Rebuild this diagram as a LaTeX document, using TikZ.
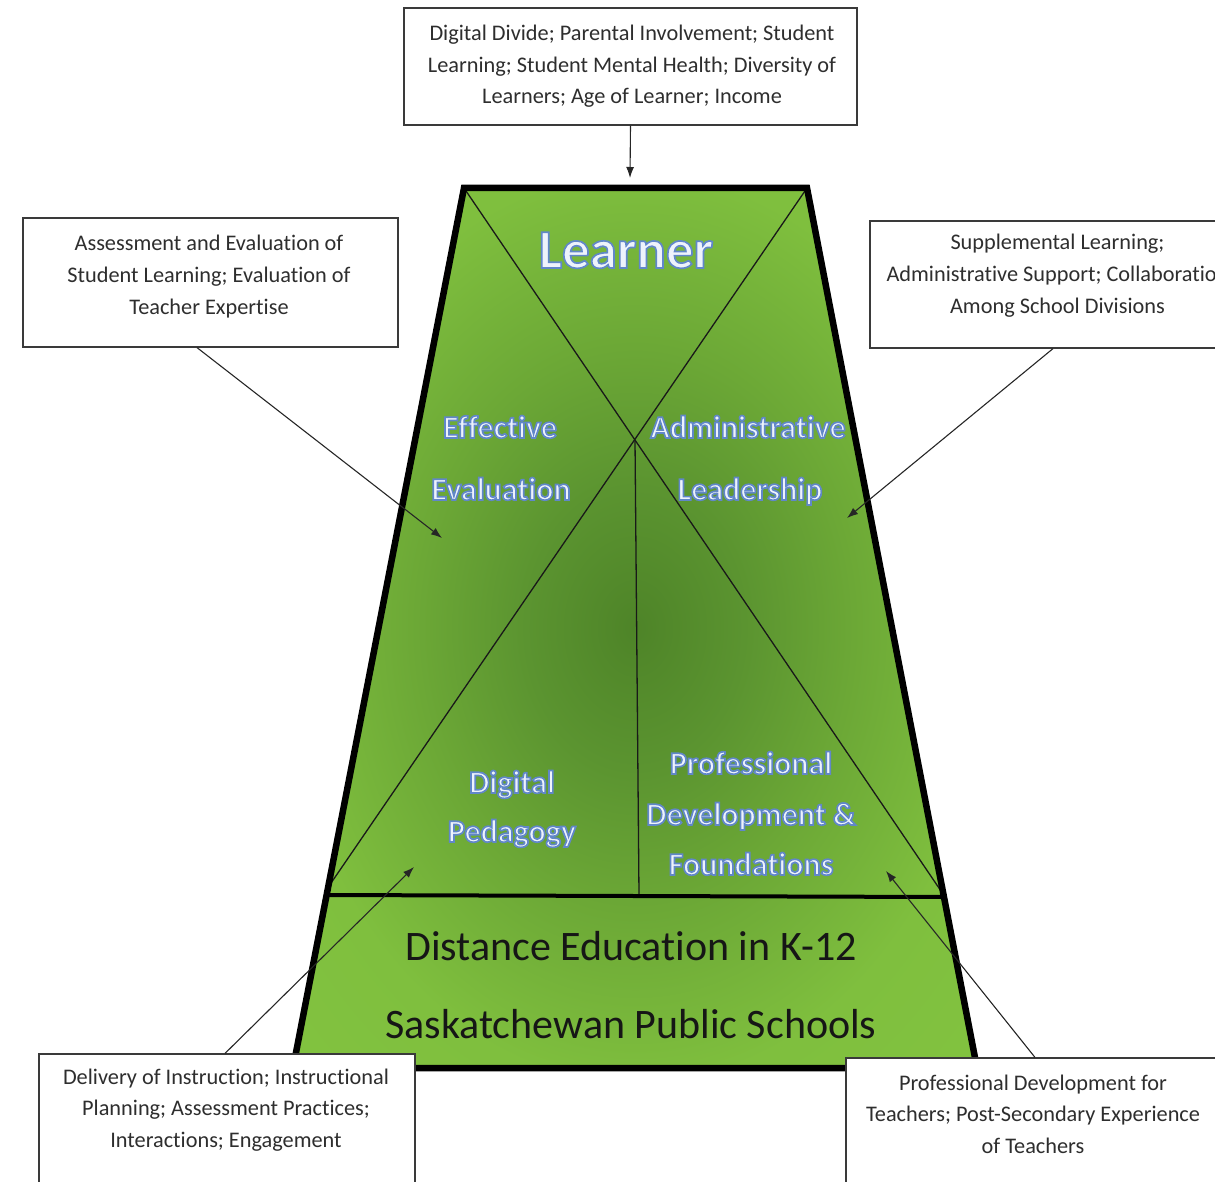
\documentclass[tikz,border=0pt]{standalone}
\usepackage{fontspec}
\setmainfont{Carlito}[RawFeature=-liga]
\usetikzlibrary{arrows.meta,calc}
\definecolor{gdark}{HTML}{4E8428}
\definecolor{gmidA}{HTML}{5B9430}
\definecolor{gmidB}{HTML}{6CA836}
\definecolor{glight}{HTML}{7FBF3E}
\definecolor{glighter}{HTML}{86C842}
\definecolor{glowfill}{HTML}{EEF3FC}
\definecolor{boxgray}{HTML}{3A3A3A}
\definecolor{boxtextc}{HTML}{2E2E2E}
\definecolor{darktext}{HTML}{161616}
\pgfdeclareradialshading{trapglow}{\pgfpoint{0bp}{0bp}}{color(0bp)=(gdark); color(8bp)=(gmidA); color(16bp)=(gmidB); color(26bp)=(glight); color(50bp)=(glighter)}
\newcommand\boxfont{\fontsize{22.3}{31.5}\selectfont}
\newcommand\lblfont{\fontsize{32}{38}\selectfont\bfseries}
\newcommand\bigfont{\fontsize{55}{60}\selectfont\bfseries}
\newcommand\basefont{\fontsize{42}{48}\selectfont}
\newcommand\glowtext[1]{\color{glowfill}\special{pdf:literal direct 2 Tr 1.7 w 0.38 0.53 0.79 RG}#1\special{pdf:literal direct 0 Tr}}
\newcommand\boxlines[4]{%
  \foreach \t [count=\i from 0] in {#4}{\node[boxtext] (#1-\i) at (#2,{#3+31.5*\i}) {\t};}}
\begin{document}
\begin{tikzpicture}[x=1pt,y=-1pt,
  glowlabel/.style={anchor=base, inner sep=0pt, text=glowfill, font=\lblfont},
  darklabel/.style={anchor=base, inner sep=0pt, text=darktext, font=\basefont},
  boxtext/.style={anchor=base, inner sep=0pt, text=boxtextc, font=\boxfont},
  infobox/.style={draw=boxgray, line width=1.2pt, fill=white, inner sep=0pt},
  conn/.style={draw=black!85, line width=1.1pt, -{Latex[length=11pt,width=8pt]}},
  thinline/.style={draw=black!90, line width=1.3pt},
  divider/.style={draw=black, line width=4pt},
  border/.style={draw=black, line width=6.5pt, line join=miter}]
\useasboundingbox (0,0) rectangle (1215,1182);
\clip (0,0) rectangle (1215,1182);
% corners of the trapezoid
\coordinate (TL) at (464,188);
\coordinate (TR) at (807,188);
\coordinate (BR) at (977,1068);
\coordinate (BL) at (293,1068);
\coordinate (X) at (635,440);
\coordinate (DL) at (327,895);
\coordinate (DR) at (944,897);
\coordinate (d1e) at (941,891);
\coordinate (d2e) at (329,886);
\coordinate (ve) at (639,895);
% fill
\path[shading=trapglow] (TL) -- (TR) -- (BR) -- (BL) -- cycle;
% inner lines
\draw[thinline] (TL) -- (d1e);
\draw[thinline] (TR) -- (d2e);
\draw[thinline] (X) -- (ve);
\draw[divider] (DL) -- (DR);
\draw[border] (TL) -- (TR) -- (BR) -- (BL) -- cycle;
% labels
\node[glowlabel, font=\bigfont] (learner) at (626,268) {\glowtext{Learner}};
\node[glowlabel] (eff) at (500,438) {\glowtext{Effective}};
\node[glowlabel] (evl) at (501,500) {\glowtext{Evaluation}};
\node[glowlabel] (adm) at (748,438) {\glowtext{Administrative}};
\node[glowlabel] (lead) at (750,500) {\glowtext{Leadership}};
\node[glowlabel] (dig) at (512,793) {\glowtext{Digital}};
\node[glowlabel] (ped) at (512,842) {\glowtext{Pedagogy}};
\node[glowlabel] (prof) at (751,774) {\glowtext{Professional}};
\node[glowlabel] (dev) at (751,825) {\glowtext{Development \&}};
\node[glowlabel] (fnd) at (751,875) {\glowtext{Foundations}};
\node[darklabel] (de) at (631,960) {Distance Education in K-12};
\node[darklabel] (sps) at (631,1038) {Saskatchewan Public Schools};
% boxes
\node[infobox, minimum width=453pt, minimum height=117pt] (tb) at (630.5,66.5) {};
\node[infobox, minimum width=375pt, minimum height=129pt] (lb) at (210.5,282.5) {};
\node[infobox, minimum width=375pt, minimum height=127pt] (rb) at (1057.5,284.5) {};
\node[infobox, minimum width=376pt, minimum height=136pt] (blb) at (227,1122) {};
\node[infobox, minimum width=374pt, minimum height=137pt] (brb) at (1033,1126.5) {};
% arrow tips
\coordinate (tTip) at (630,178);
\coordinate (lTip) at (442,538);
\coordinate (rTip) at (847,518);
\coordinate (blTip) at (414,867);
\coordinate (brTip) at (886,871);
\draw[conn] (tb.south) -- (tTip);
\draw[conn] ([xshift=-13.5pt]lb.south) -- (lTip);
\draw[conn] ([xshift=-4.5pt]rb.south) -- (rTip);
\draw[conn] ([xshift=-2pt]blb.north) -- (blTip);
\draw[conn] ([xshift=2pt]brb.north) -- (brTip);
% box texts
\boxlines{tbt}{632}{41}{{Digital Divide; Parental Involvement; Student},{Learning; Student Mental Health; Diversity of},{Learners; Age of Learner; Income}}
\boxlines{lbt}{209}{251}{{Assessment and Evaluation of},{Student Learning; Evaluation of},{Teacher Expertise}}
\boxlines{rbt}{1057.5}{250}{{Supplemental Learning;},{Administrative Support; Collaboration},{Among School Divisions}}
\boxlines{blbt}{226}{1084}{{Delivery of Instruction; Instructional},{Planning; Assessment Practices;},{Interactions; Engagement}}
\boxlines{brbt}{1033}{1090}{{Professional Development for},{Teachers; Post-Secondary Experience},{of Teachers}}
\end{tikzpicture}
\end{document}
